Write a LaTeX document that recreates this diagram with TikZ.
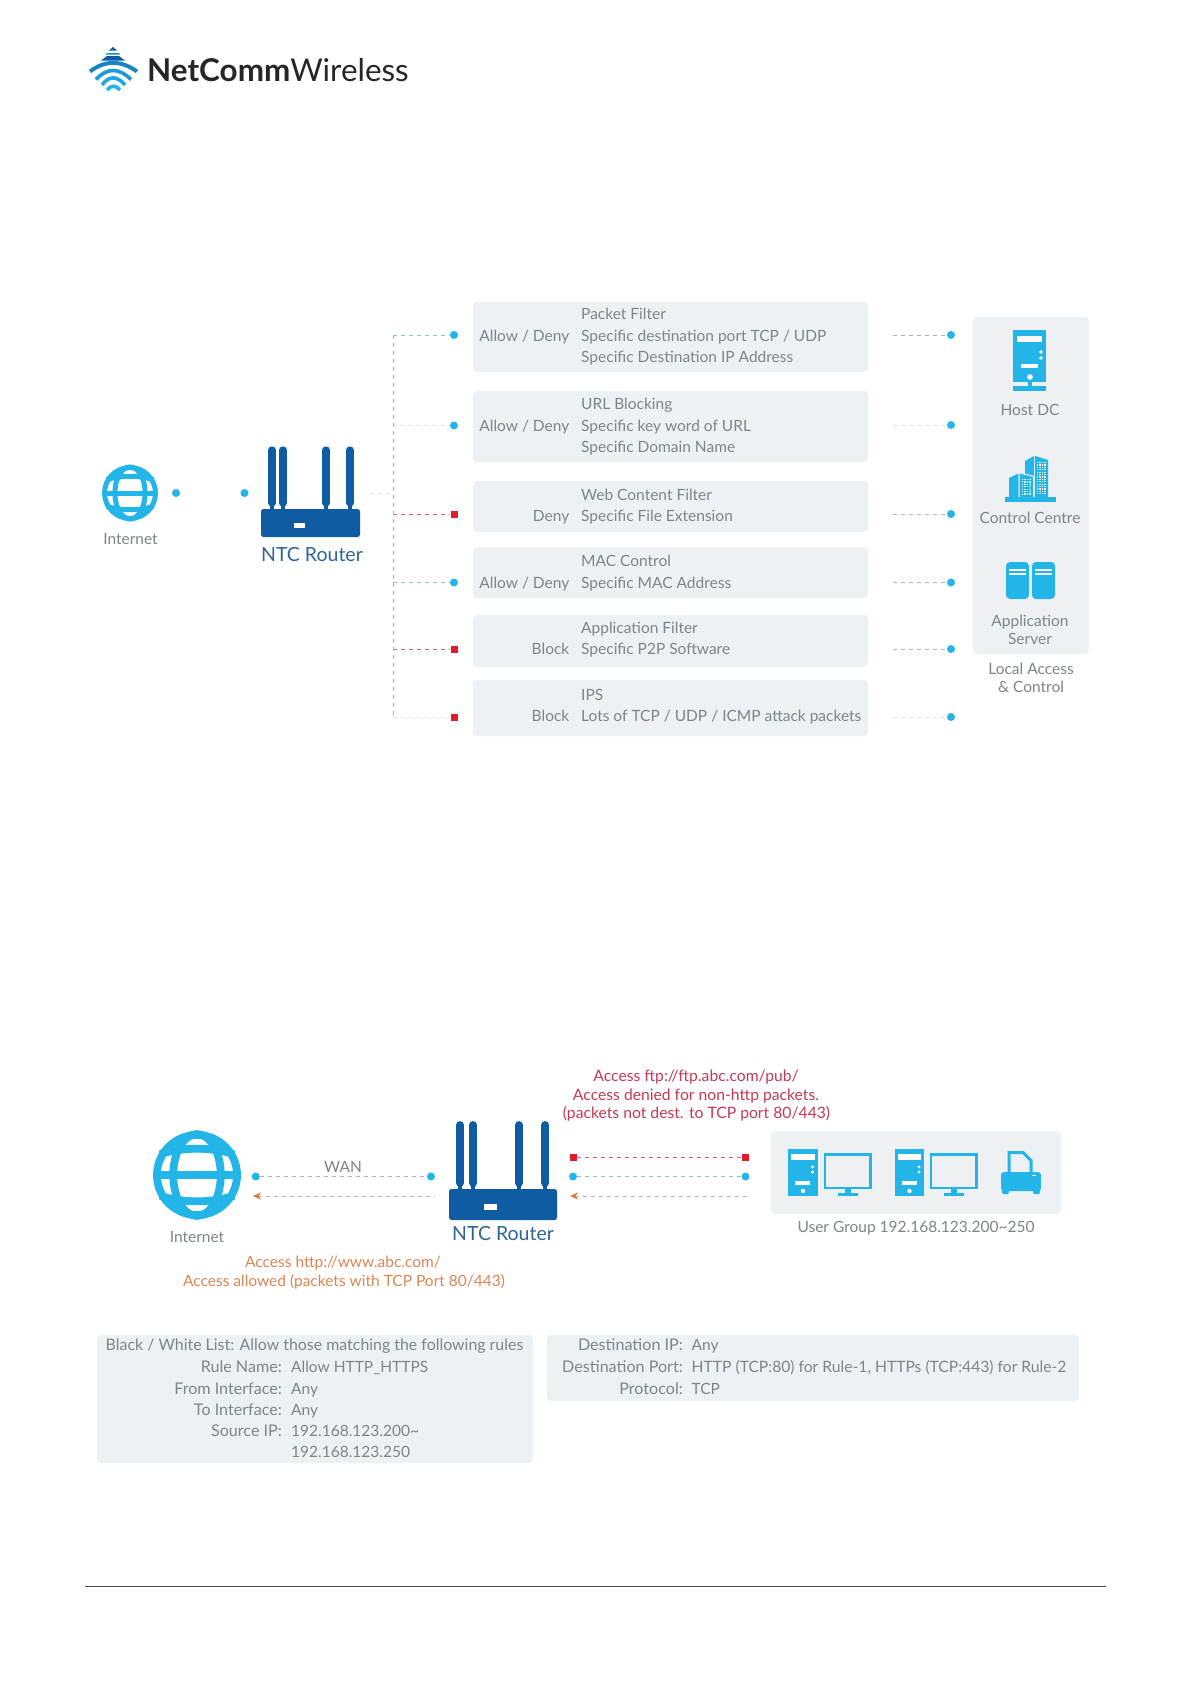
\documentclass[tikz,border=0pt]{standalone}
\usepackage{fontspec}
\setmainfont{Lato}
\usetikzlibrary{arrows.meta}
\definecolor{skyb}{HTML}{23B4E8}
\definecolor{navy}{HTML}{0F5CA3}
\definecolor{panelg}{HTML}{EEF1F3}
\definecolor{txtg}{HTML}{7F8488}
\definecolor{redm}{HTML}{E21B2C}
\definecolor{orng}{HTML}{E0783C}
\definecolor{dashg}{HTML}{B0B4B7}
\definecolor{dashf}{HTML}{DFE1E3}
\definecolor{dasht}{HTML}{8CC4C6}
\definecolor{dashr}{HTML}{C96C75}
\definecolor{redtxt}{HTML}{C23A58}
\definecolor{orgtxt}{HTML}{DB8555}
\definecolor{routertxt}{HTML}{2F6597}
\newcommand{\ftxt}[1]{\fontsize{#1}{#1}\selectfont}
\tikzset{
  x=1pt,y=-1pt,
  panelbox/.style={fill=panelg,rounded corners=4pt,draw=none},
  lab/.style={inner sep=0pt,yshift=-3pt,text=txtg,font=\ftxt{15.5}},
  labr/.style={lab,anchor=mid east},
  labl/.style={lab,anchor=mid west},
  labc/.style={lab,anchor=mid},
  keylab/.style={labr,font=\ftxt{16.1}},
  bluedot/.style={circle,fill=skyb,inner sep=0pt,minimum size=8pt},
  reddot/.style={rectangle,fill=redm,inner sep=0pt,minimum size=7pt},
  dashbase/.style={line width=.55pt,dash pattern=on 4pt off 4pt},
  dashgrey/.style={dashbase,draw=dashg},
  dashfaint/.style={dashbase,draw=dashf},
  dashteal/.style={dashbase,draw=dasht},
  dashred/.style={dashbase,draw=dashr},
  dashorng/.style={dashbase,draw=dashg,{Stealth[orng,length=8pt,width=7pt,inset=2.5pt]}-},
  routerlab/.style={inner sep=0pt,yshift=-3.5pt,anchor=mid,text=routertxt,font=\ftxt{19.5}},
  redlab/.style={inner sep=0pt,yshift=-3pt,anchor=mid,text=redtxt,font=\ftxt{15.7}},
  orglab/.style={inner sep=0pt,yshift=-3pt,anchor=mid,text=orgtxt,font=\ftxt{15.5}},
}
% centre x, centre y, radius, line width
\newcommand{\drawglobe}[4]{%
  \begin{scope}[shift={(#1,#2)},x=#3pt,y=#3pt]
    \draw[skyb,fill=white,line width=#4pt] (0,0) circle[radius=.91];
    \draw[skyb,line width=#4pt] (0,0) ellipse[x radius=.54,y radius=.93];
    \draw[skyb,line width=#4pt] (-.95,0) -- (.95,0);
    \draw[skyb,line width=#4pt] (-.84,-.47) .. controls (-.35,-.64) and (.35,-.64) .. (.84,-.47);
    \draw[skyb,line width=#4pt] (-.84,.47) .. controls (-.35,.64) and (.35,.64) .. (.84,.47);
  \end{scope}}
% left, top of body, right, bottom of body, antenna top, width, four antenna x
\newcommand{\drawrouter}[9]{%
  \fill[navy,rounded corners=2.5pt] (#1,#2) rectangle (#3,#4);
  \foreach \ax in {#7,#8,#9}{\draw[navy,line width=#6pt,line cap=round] (\ax,#5+3) -- (\ax,#2-6);\draw[navy,line width=#6pt*.45] (\ax,#2-7) -- (\ax,#2);}
}
\newcommand{\drawtower}[2]{%
  \begin{scope}[shift={(#1,#2)}]
    \fill[skyb] (0,0) rectangle (29.5,47);
    \fill[white] (3,5) rectangle (26.5,10.5);
    \fill[white] (24.5,18) circle[radius=1.6] (24.5,23) circle[radius=1.6];
    \fill[white] (7,32) rectangle (22,36);
    \fill[white] (15,42) circle[radius=2.2];
  \end{scope}}
\newcommand{\drawmonitor}[2]{%
  \begin{scope}[shift={(#1,#2)}]
    \draw[skyb,line width=2.6pt,fill=panelg] (1.3,1.3) rectangle (47.2,35);
    \fill[skyb] (21,36) rectangle (27.5,40);
    \fill[skyb] (14,40) rectangle (34.5,43);
  \end{scope}}
\begin{document}
\begin{tikzpicture}
\useasboundingbox[fill=white] (0,0) rectangle (1191,1684);

% ---------- logo
\fill[navy] (113,47) -- (117,50.5) -- (109,50.5) -- cycle;
\fill[skyb!55!navy] (107,53) -- (119,53) -- (120.5,54.5) -- (105.5,54.5) -- cycle;
\fill[navy] (107,56) -- (119,56) -- (125,60.5) -- (101,60.5) -- cycle;
\draw[skyb!45!navy,line width=4pt] (90,71.5) .. controls (105,60) and (121,60) .. (137,71.5);
\draw[skyb!70!navy,line width=3.6pt] (96,79.5) .. controls (107,67.5) and (119,67.5) .. (131,79.5);
\draw[skyb!85!navy,line width=3.6pt] (102,85) .. controls (109,75.5) and (117,75.5) .. (125,85);
\draw[skyb,line width=3.6pt] (107,90) .. controls (111,85) and (116,85) .. (120,90);
\node[anchor=base west,inner sep=0pt,text=black!85,font=\ftxt{31.4}] (logotext) at (147,81) {\textbf{NetComm}Wireless};

% ---------- top diagram panels
\foreach \n/\t/\b in {1/302/372,2/391/462,3/481/532,4/547/598,5/615/667,6/680/736}
  \fill[panelbox] (473,\t) rectangle (868,\b);
\fill[panelbox] (973,317) rectangle (1089,654);

% panel texts
\node[labl] (p1a) at (581,314) {Packet Filter};
\node[labl] (p1b) at (581,335.5) {Specific destination port TCP / UDP};
\node[labl] (p1c) at (581,357) {Specific Destination IP Address};
\node[labr] (p1k) at (569.5,335.5) {Allow / Deny};
\node[labl] (p2a) at (581,404) {URL Blocking};
\node[labl] (p2b) at (581,425.5) {Specific key word of URL};
\node[labl] (p2c) at (581,447) {Specific Domain Name};
\node[labr] (p2k) at (569.5,425.5) {Allow / Deny};
\node[labl] (p3a) at (581,494.5) {Web Content Filter};
\node[labl] (p3b) at (581,515.5) {Specific File Extension};
\node[labr] (p3k) at (569.5,516) {Deny};
\node[labl] (p4a) at (581,561) {MAC Control};
\node[labl] (p4b) at (581,582.5) {Specific MAC Address};
\node[labr] (p4k) at (569.5,582.5) {Allow / Deny};
\node[labl] (p5a) at (581,628) {Application Filter};
\node[labl] (p5b) at (581,649) {Specific P2P Software};
\node[labr] (p5k) at (569.5,649) {Block};
\node[labl] (p6a) at (581,694.5) {IPS};
\node[labl] (p6b) at (581,716) {Lots of TCP / UDP / ICMP attack packets};
\node[labr] (p6k) at (569.5,716) {Block};

% left connectors
\coordinate (stub) at (370,493);
\coordinate (stubt) at (393,493);
\foreach \n/\y/\kind/\ds in {1/335/bluedot/dashteal,2/425.5/bluedot/dashfaint,3/514/reddot/dashred,4/582.5/bluedot/dashteal,5/649/reddot/dashred,6/717/reddot/dashfaint}{
  \coordinate (t\n) at (393,\y);
  \node[\kind] (dl\n) at (454,\y) {};
  \draw[\ds] (t\n) -- (dl\n);
}
\draw[dashgrey] (t1) -- (t6);
\draw[dashfaint] (stub) -- (stubt);

% right connectors
\foreach \n/\y/\ds in {1/335/dashgrey,2/425/dashfaint,3/514/dashgrey,4/582.5/dashgrey,5/649/dashgrey,6/717/dashfaint}{
  \coordinate (r\n) at (893,\y);
  \node[bluedot] (dr\n) at (951,\y) {};
  \draw[\ds] (r\n) -- (dr\n);
}

% globe and router 1
\drawglobe{130}{493}{28}{5}
\node[labc] (inet1) at (130.5,539) {Internet};
\node[bluedot] (gd1) at (176,493) {};
\node[bluedot] (gd2) at (244.5,493) {};
\drawrouter{261}{509}{360}{537}{447}{7.2}{272,283}{326}{350}
\fill[white] (294,523) rectangle (305,528);
\node[routerlab] (rl1) at (312,555) {NTC Router};

% host DC
\fill[skyb] (1013,330) rectangle (1046,382);
\fill[white] (1017,336) rectangle (1042,342);
\fill[white] (1041,352) circle[radius=1.8] (1041,358) circle[radius=1.8];
\fill[white] (1021,364) rectangle (1038,368);
\fill[white] (1030,377) circle[radius=2.8];
\fill[skyb] (1028,380) rectangle (1032,387);
\fill[skyb] (1013,386) rectangle (1046,391);
\node[labc] (hostdc) at (1030,410) {Host DC};

% control centre
\fill[skyb] (1005,497) rectangle (1056,502);
\fill[skyb] (1025,461) -- (1034,456) -- (1034,497) -- (1025,497) -- cycle;
\fill[skyb] (1035.2,456) -- (1048,460) -- (1048,497) -- (1035.2,497) -- cycle;
\fill[skyb] (1009,478) -- (1018.5,473.5) -- (1018.5,497) -- (1009,497) -- cycle;
\fill[panelg] (1018.5,472) -- (1034,476) -- (1034,497) -- (1018.5,497) -- cycle;
\fill[skyb] (1019.7,473.5) -- (1033,477) -- (1033,497) -- (1019.7,497) -- cycle;
\foreach \wx in {1037.5,1040,1042.5,1045}
  \draw[white,line width=1.1pt,dash pattern=on 1.2pt off 1.2pt] (\wx,462) -- (\wx,495);
\foreach \wx in {1022.5,1025,1027.5,1030}
  \draw[white,line width=1.1pt,dash pattern=on 1.2pt off 1.2pt] (\wx,479) -- (\wx,495);
\node[labc] (ctrl) at (1030,518) {Control Centre};

% application server
\foreach \sx in {1006,1032}{
  \fill[skyb,rounded corners=4pt] (\sx,562) rectangle (\sx+23,599);
  \fill[white] (\sx+3,569) rectangle (\sx+20,570.5);
  \fill[white] (\sx+3,573) rectangle (\sx+20,574.5);
}
\node[labc] (app1) at (1030,620.5) {Application};
\node[labc] (app2) at (1030,639) {Server};
\node[labc] (loc1) at (1031,669) {Local Access};
\node[labc] (loc2) at (1031,687) {\& Control};

% ---------- bottom diagram
\drawglobe{197}{1175}{44}{7.8}
\node[labc] (inet2) at (197,1237) {Internet};
\node[bluedot] (wa) at (255.7,1176.5) {};
\node[bluedot] (wb) at (431,1176.5) {};
\draw[dashgrey] (wa) -- (wb);
\node[labc] (wan) at (343,1167) {WAN};
\coordinate (ga) at (253,1196);
\coordinate (gb) at (435,1196);
\draw[dashorng] (ga) -- (gb);
\drawrouter{449}{1189}{557}{1220}{1122}{7.8}{460,473}{519}{545}
\fill[white] (484,1204) rectangle (497,1210);
\node[routerlab] (rl2) at (503,1234) {NTC Router};
\node[orglab] (ok1) at (343,1262) {Access http://www.abc.com/};
\node[orglab] (ok2) at (344,1281) {Access allowed (packets with TCP Port 80/443)};
\node[redlab] (no1) at (696,1076) {Access ftp://ftp.abc.com/pub/};
\node[redlab] (no2) at (696,1094.5) {Access denied for non-http packets.};
\node[redlab] (no3) at (696.5,1113) {(packets not dest. to TCP port 80/443)};

\node[reddot] (ra) at (573,1157) {};
\node[reddot] (rb) at (745.5,1157) {};
\draw[dashred] (ra) -- (rb);
\node[bluedot] (ba) at (573,1176.5) {};
\node[bluedot] (bb) at (745.5,1176.5) {};
\draw[dashteal] (ba) -- (bb);
\coordinate (oa) at (570,1196);
\coordinate (ob) at (749,1196);
\draw[dashorng] (oa) -- (ob);

\fill[panelbox] (771,1131) rectangle (1061,1213.5);
\drawtower{788}{1149}
\drawmonitor{823.5}{1153}
\drawtower{894.5}{1149}
\drawmonitor{929.5}{1153}
% printer
\draw[skyb,line width=3pt] (1009,1172) -- (1009,1152.5) -- (1023,1152.5) -- (1031,1160.5) -- (1031,1172);
\fill[skyb,rounded corners=3pt] (1001,1172) rectangle (1041,1191);
\fill[skyb,rounded corners=1.5pt] (1002,1186) rectangle (1009,1194);
\fill[skyb,rounded corners=1.5pt] (1033,1186) rectangle (1040,1194);
\fill[white] (1032,1175) rectangle (1036,1176);
\node[labc] (ug) at (916,1227) {User Group 192.168.123.200\textasciitilde250};

% ---------- tables
\fill[panelbox] (97,1335) rectangle (533,1463);
\fill[panelbox] (547,1335) rectangle (1079,1401);
\node[labc,font=\ftxt{15.9}] (tt) at (314.5,1345) {Black / White List: Allow those matching the following rules};
\node[keylab] (k1) at (282,1367) {Rule Name:};
\node[labl] (v1) at (291,1367) {Allow HTTP\_HTTPS};
\node[keylab] (k2) at (282,1388.5) {From Interface:};
\node[labl] (v2) at (291,1388.5) {Any};
\node[keylab] (k3) at (282,1410) {To Interface:};
\node[labl] (v3) at (291,1410) {Any};
\node[keylab] (k4) at (282,1431) {Source IP:};
\node[labl] (v4) at (291,1431) {192.168.123.200\textasciitilde};
\node[labl] (v5) at (291,1452) {192.168.123.250};
\node[keylab] (k5) at (683,1345) {Destination IP:};
\node[labl] (v6) at (691.5,1345) {Any};
\node[keylab] (k6) at (683,1367) {Destination Port:};
\node[labl,font=\ftxt{15.65}] (v7) at (691.5,1367) {HTTP (TCP:80) for Rule-1, HTTPs (TCP:443) for Rule-2};
\node[keylab] (k7) at (683,1388.5) {Protocol:};
\node[labl] (v8) at (691.5,1388.5) {TCP};

% footer rule
\coordinate (fa) at (85,1586);
\coordinate (fb) at (1106,1586);
\draw[black!70,line width=.7pt] (fa) -- (fb);
\end{tikzpicture}
\end{document}
